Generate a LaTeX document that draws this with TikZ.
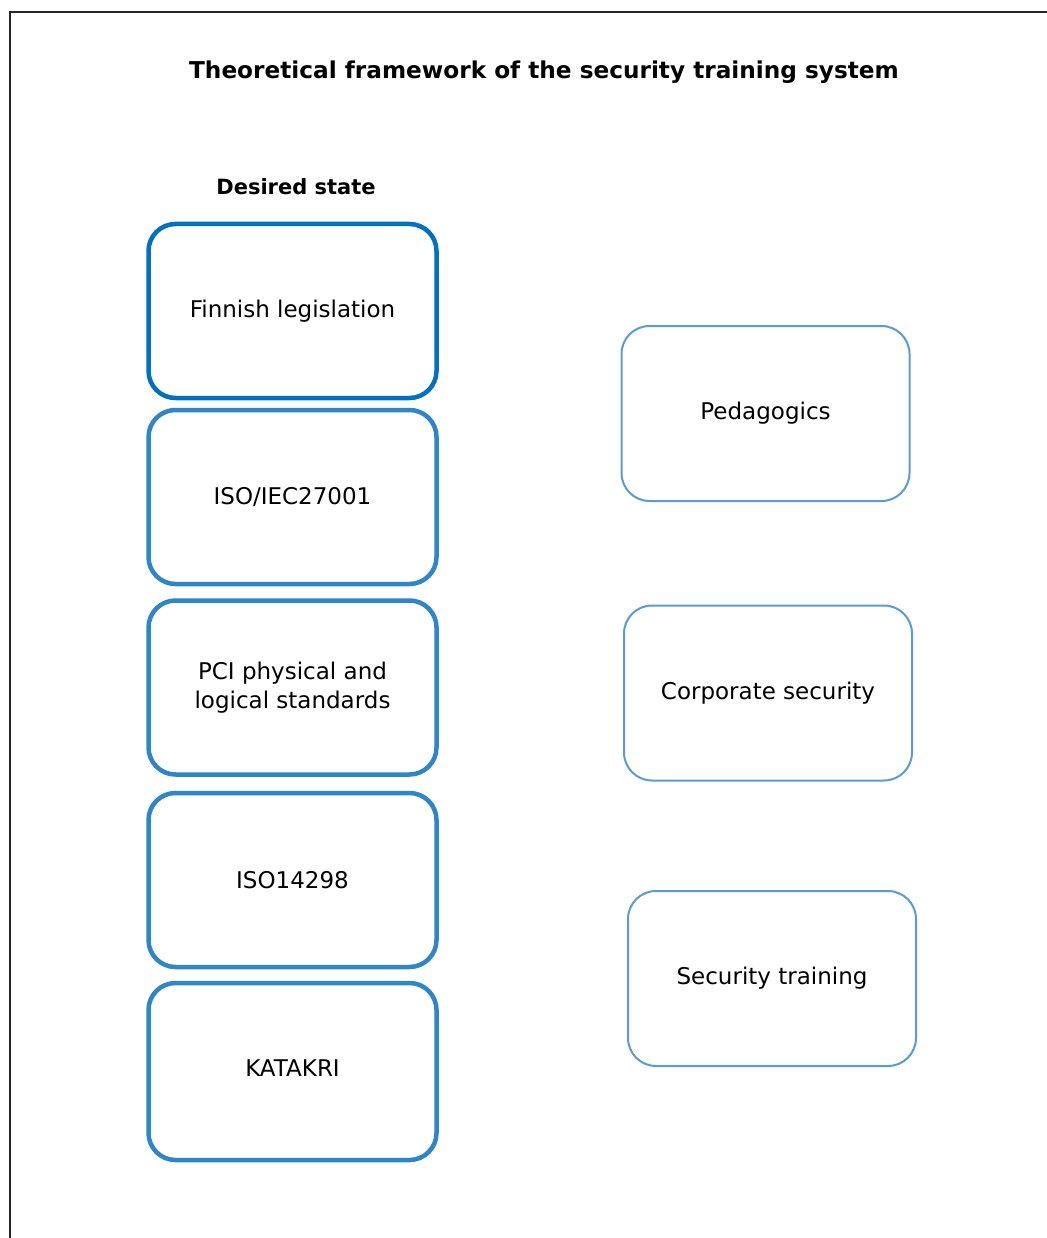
\documentclass[tikz,border=0pt]{standalone}
\usepackage{fontspec}
\setmainfont{DejaVu Sans}
\definecolor{darkblue}{HTML}{0070C0}
\definecolor{midblue}{HTML}{2E86C8}
\definecolor{lightblue}{HTML}{5B9BD5}
\tikzset{
  leftbox/.style={draw=midblue, line width=4.5pt, rounded corners=27pt, minimum width=288pt, minimum height=174pt, align=center, font=\fontsize{23}{29}\selectfont, inner sep=0pt},
  rightbox/.style={draw=lightblue, line width=2pt, rounded corners=28pt, minimum width=288pt, minimum height=175pt, align=center, font=\fontsize{23}{29}\selectfont, inner sep=0pt},
  titletext/.style={font=\bfseries\fontsize{23.2}{27}\selectfont},
  headtext/.style={font=\bfseries\fontsize{21}{25}\selectfont},
}
\begin{document}
\begin{tikzpicture}[x=1pt,y=-1pt]
\useasboundingbox (0,0) rectangle (1046,1238);
\fill[white] (0,0) rectangle (1046,1238);
\draw[line width=2pt, black!85] (9.5,12.5) rectangle (1070,1260);
\node[titletext] (title) at (544,72) {Theoretical framework of the security training system};
\node[headtext] (desired) at (296,187) {Desired state};
\node[leftbox, draw=darkblue] (b1) at (292.5,311) {Finnish legislation};
\node[leftbox] (b2) at (292.5,497) {ISO/IEC27001};
\node[leftbox] (b3) at (292.5,687.5) {PCI physical and\\logical standards};
\node[leftbox] (b4) at (292.5,880) {ISO14298};
\node[leftbox, minimum height=177pt] (b5) at (292.5,1071.5) {\raisebox{6pt}{KATAKRI}};
\node[rightbox] (r1) at (765.5,413.5) {Pedagogics};
\node[rightbox] (r2) at (768,693) {Corporate security};
\node[rightbox] (r3) at (772,978.5) {Security training};
\end{tikzpicture}
\end{document}
